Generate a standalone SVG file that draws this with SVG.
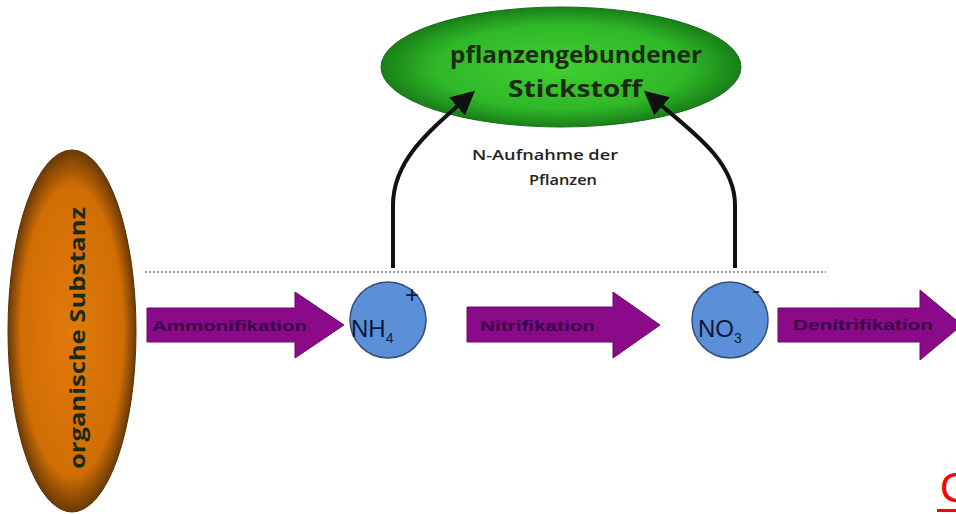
<svg xmlns="http://www.w3.org/2000/svg" width="956" height="514" viewBox="0 0 956 514">
<defs>
<radialGradient id="gOrange" cx="0.5" cy="0.5" r="0.5">
<stop offset="0" stop-color="#e07a08"/>
<stop offset="0.8" stop-color="#d06e05"/>
<stop offset="1" stop-color="#6a3a05"/>
</radialGradient>
<radialGradient id="gGreen" cx="0.5" cy="0.5" r="0.5">
<stop offset="0" stop-color="#3fd030"/>
<stop offset="0.7" stop-color="#30b828"/>
<stop offset="1" stop-color="#188018"/>
</radialGradient>
<marker id="ah" markerWidth="6" markerHeight="6" refX="4" refY="3" orient="auto" markerUnits="strokeWidth">
<path d="M0,0 L6,3 L0,6 Z" fill="#111"/>
</marker>
<style>
.arrow{fill:#8a0a8a;stroke:#6a0a6a;stroke-width:1}
.alabel{font-family:"Liberation Sans",Arial,sans-serif;font-weight:bold;font-size:14px;fill:#3a0448}
.ion{fill:#5b8fd8;stroke:#34507a;stroke-width:1.5}
.iontxt{font-family:"Liberation Sans",Arial,sans-serif;font-size:24px;fill:#0d1a3a}
.conn{fill:none;stroke:#111;stroke-width:4}
.big{font-family:"Open Sans","Liberation Sans",sans-serif;font-weight:bold;fill:#1c2a14}
.lbl{font-family:"Open Sans","Liberation Sans",sans-serif;font-size:14.5px;font-weight:600;fill:#222}
</style>
</defs>
<line x1="145" y1="272" x2="826" y2="272" stroke="#999" stroke-width="2" stroke-dasharray="2,2"/>
<g id="organische">
<ellipse cx="72" cy="331" rx="64" ry="181" fill="url(#gOrange)" stroke="#5a3005" stroke-width="1"/>
<text class="big" x="0" y="0" font-size="22" font-weight="600" text-anchor="middle" fill="#3a1e05" transform="translate(85,338) rotate(-90)" textLength="262" lengthAdjust="spacingAndGlyphs">organische Substanz</text>
</g>
<g id="pflanzen">
<ellipse cx="561" cy="67" rx="180" ry="60" fill="url(#gGreen)" stroke="#1a6a1a" stroke-width="1"/>
<text class="big" x="576" y="63" font-size="23" text-anchor="middle" textLength="252" lengthAdjust="spacingAndGlyphs">pflanzengebundener</text>
<text class="big" x="575" y="97" font-size="23" text-anchor="middle" textLength="134" lengthAdjust="spacingAndGlyphs">Stickstoff</text>
</g>
<g id="ammonifikation">
<path class="arrow" d="M147,308 L295,308 L295,292 L344,325 L295,358 L295,342 L147,342 Z"/>
<text class="alabel" x="152" y="331" textLength="155" lengthAdjust="spacingAndGlyphs">Ammonifikation</text>
</g>
<g id="nh4">
<circle class="ion" cx="388" cy="320" r="38"/>
<text class="iontxt" x="351" y="337">NH<tspan font-size="14" dy="6">4</tspan></text>
<text class="iontxt" x="405" y="303" font-size="18">+</text>
</g>
<g id="nitrifikation">
<path class="arrow" d="M467,307 L613,307 L613,292 L660,325 L613,358 L613,342 L467,342 Z"/>
<text class="alabel" x="480" y="331" textLength="115" lengthAdjust="spacingAndGlyphs">Nitrifikation</text>
</g>
<g id="no3">
<circle class="ion" cx="730" cy="320" r="38"/>
<text class="iontxt" x="698" y="337">NO<tspan font-size="14" dy="6">3</tspan></text>
<text class="iontxt" x="752" y="298" font-size="18">-</text>
</g>
<g id="denitrifikation">
<path class="arrow" d="M778,308 L920,308 L920,290 L962,325 L920,360 L920,342 L778,342 Z"/>
<text class="alabel" x="793" y="330" textLength="140" lengthAdjust="spacingAndGlyphs">Denitrifikation</text>
</g>
<g id="connectors">
<path class="conn" marker-end="url(#ah)" d="M393,268 L393,205 C393,160 430,130 469,96"/>
<path class="conn" marker-end="url(#ah)" d="M735,268 L735,205 C735,160 690,130 650,96"/>
</g>
<g id="label">
<text class="lbl" x="545" y="160" text-anchor="middle" textLength="146" lengthAdjust="spacingAndGlyphs">N-Aufnahme der</text>
<text class="lbl" x="563" y="185" text-anchor="middle" textLength="68" lengthAdjust="spacingAndGlyphs">Pflanzen</text>
</g>
<text x="940" y="502" font-family="'Liberation Sans',Arial,sans-serif" font-size="42" fill="#ff0000">C</text>
<rect x="937" y="509" width="20" height="3" fill="#ff0000"/>
</svg>
